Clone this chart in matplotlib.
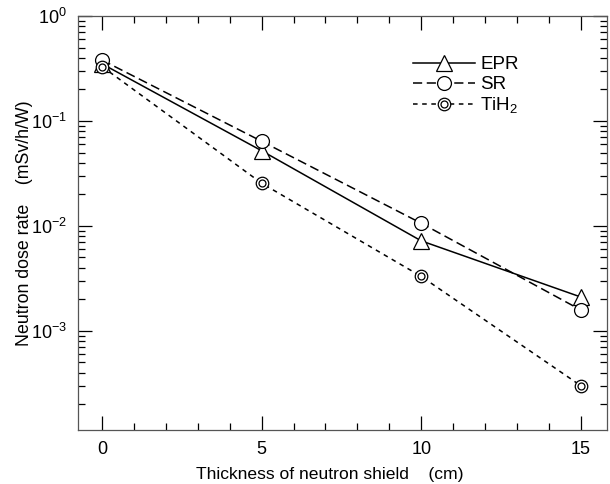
import matplotlib.pyplot as plt
from matplotlib.ticker import LogLocator, MultipleLocator, NullFormatter
from matplotlib.legend_handler import HandlerTuple

plt.rcParams['font.family'] = ['Liberation Sans', 'DejaVu Sans']
plt.rcParams['mathtext.fontset'] = 'custom'
plt.rcParams['mathtext.rm'] = 'Liberation Sans'

# data
thickness = [0, 5, 10, 15]
epr = [0.35, 0.052, 0.0072, 0.0021]
sr = [0.38, 0.064, 0.0106, 0.00158]
tih2 = [0.33, 0.0255, 0.0033, 0.0003]

fig = plt.figure(figsize=(6.1, 4.84), dpi=100)
ax = fig.add_axes([0.128, 0.112, 0.867, 0.855])

ms = 10
l_epr, = ax.plot(thickness, epr, '-', color='black', lw=1.1, marker='^', ms=ms + 1,
                 mfc='white', mec='black', mew=0.9)
l_sr, = ax.plot(thickness, sr, color='black', lw=1.1, ls=(0, (6, 3)), marker='o', ms=ms,
                mfc='white', mec='black', mew=0.9)
l_ti, = ax.plot(thickness, tih2, color='black', lw=1.1, ls=(0, (3, 3)), marker='o', ms=ms - 1,
                mfc='white', mec='black', mew=0.9)
l_ti2, = ax.plot(thickness, tih2, ls='none', marker='o', ms=ms - 5,
                 mfc='white', mec='black', mew=0.9)

ax.set_yscale('log')
ax.set_xlim(-0.75, 15.82)
ax.set_ylim(1.14e-4, 1)

ax.xaxis.set_major_locator(MultipleLocator(5))
ax.xaxis.set_minor_locator(MultipleLocator(1))
ax.yaxis.set_minor_locator(LogLocator(base=10, subs=range(2, 10), numticks=20))
ax.yaxis.set_minor_formatter(NullFormatter())
ax.set_yticks([1e-3, 1e-2, 1e-1, 1])
ax.set_yticklabels([r'$\mathregular{10^{-3}}$', r'$\mathregular{10^{-2}}$',
                    r'$\mathregular{10^{-1}}$', r'$\mathregular{10^{0}}$'])

ax.tick_params(which='both', direction='in', top=True, right=True, labelsize=13, width=0.9)
ax.tick_params(which='major', length=10, pad=8)
ax.tick_params(which='minor', length=5)
for s in ax.spines.values():
    s.set_linewidth(0.9)
    s.set_color('#555555')

ax.set_xlabel('Thickness of neutron shield    (cm)', fontsize=12.6)
ax.xaxis.set_label_coords(0.476, -0.09)
ax.set_ylabel('Neutron dose rate    (mSv/h/W)', fontsize=12.8)
ax.yaxis.set_label_coords(-0.085, 0.5)

ax.legend([l_epr, l_sr, (l_ti, l_ti2)], ['EPR', 'SR', r'TiH$_2$'],
          handler_map={tuple: HandlerTuple(ndivide=1)},
          loc='upper left', bbox_to_anchor=(0.633, 0.903), frameon=False,
          borderpad=0, borderaxespad=0,
          fontsize=13.5, handlelength=3.3, labelspacing=0.15, handletextpad=0.3)

fig.savefig('out.png', dpi=100)
